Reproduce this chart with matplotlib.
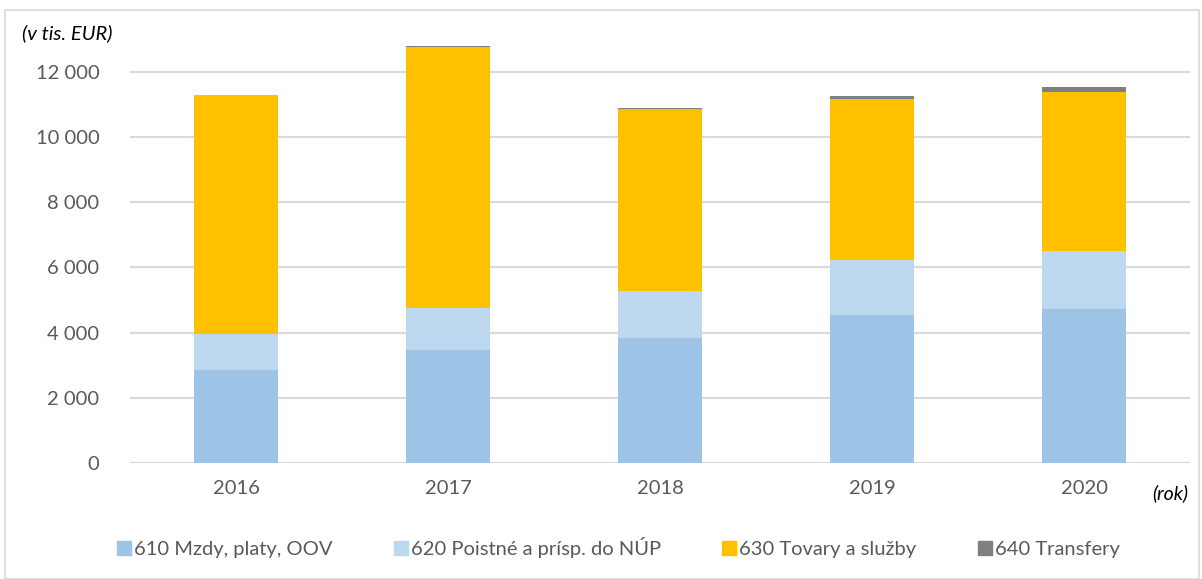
import matplotlib
matplotlib.use("Agg")
import matplotlib.pyplot as plt
from matplotlib.patches import Rectangle
from matplotlib.lines import Line2D
import numpy as np

plt.rcParams['font.family'] = ['Lato', 'DejaVu Sans']

years = ["2016", "2017", "2018", "2019", "2020"]
series_names = ["610 Mzdy, platy, OOV", "620 Poistné a prísp. do NÚP",
                "630 Tovary a služby", "640 Transfery"]
v610 = [2850, 3470, 3850, 4540, 4740]
v620 = [1110, 1290, 1430, 1690, 1760]
v630 = [7320, 8000, 5590, 4940, 4890]
v640 = [20, 30, 40, 90, 160]
colors = ["#9DC3E6", "#BDD7EE", "#FFC000", "#7F7F7F"]
yticks = [0, 2000, 4000, 6000, 8000, 10000, 12000]
ytick_labels = ["0", "2 000", "4 000", "6 000", "8 000", "10 000", "12 000"]

W, H = 1202, 579
fig = plt.figure(figsize=(W / 100, H / 100), dpi=100)
ax = fig.add_axes([130 / W, 1 - 463 / H, (1190 - 130) / W, (463 - 39.4) / H])

x = np.arange(len(years))
bottom = np.zeros(len(years))
for vals, c in zip([v610, v620, v630, v640], colors):
    ax.bar(x, vals, width=0.4, bottom=bottom, color=c, linewidth=0, zorder=3)
    bottom += np.array(vals)

ax.set_xlim(-0.5, len(years) - 0.5)
ax.set_ylim(0, 13000)
ax.set_yticks(yticks)
ax.set_yticklabels(ytick_labels)
ax.set_xticks(x)
ax.set_xticklabels(years)
ax.tick_params(axis='both', length=0, labelsize=14.5, colors="#595959")
ax.tick_params(axis='y', pad=22)
ax.tick_params(axis='x', pad=12)
for s in ax.spines.values():
    s.set_visible(False)
ax.grid(axis='y', color="#D9D9D9", linewidth=1.5, zorder=0)
ax.set_axisbelow(True)

fig.text(22 / W, 1 - 33 / H, "(v tis. EUR)", fontsize=14.5, style='italic',
         color="black", va='center', ha='left')
fig.text(1152 / W, 1 - 493 / H, "(rok)", fontsize=14, style='italic',
         color="black", va='center', ha='left')

handles = [Line2D([0], [0], marker='s', linestyle='none', markersize=10,
                  markerfacecolor=c, markeredgecolor=c) for c in colors]
fig.legend(handles, series_names, loc='center', bbox_to_anchor=(0.513, 1 - 548 / H),
           ncol=4, frameon=False, fontsize=14.5, labelcolor="#595959",
           handletextpad=0.0, columnspacing=2.9, handlelength=1.0)

fig.patches.append(Rectangle((5 / W, 0.0), 1 - 8 / W, 1 - 10 / H, transform=fig.transFigure,
                             fill=False, edgecolor="#D9D9D9", linewidth=1.2))

fig.savefig("out.png", dpi=100)
